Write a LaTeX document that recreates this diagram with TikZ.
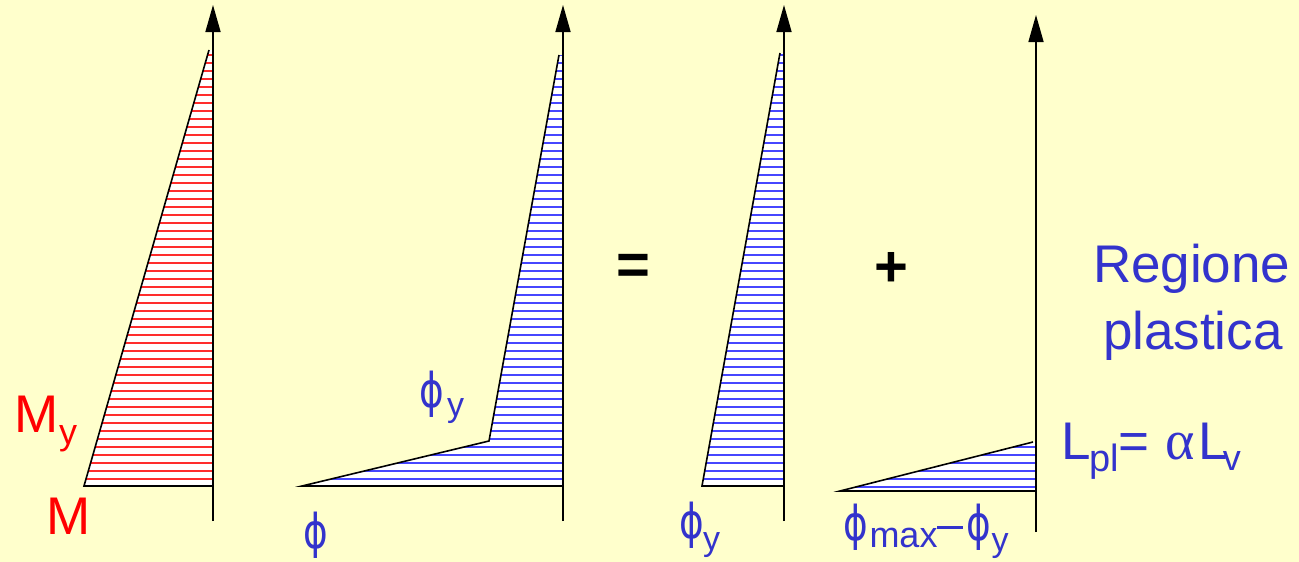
\documentclass[tikz,border=0pt]{standalone}
\usepackage{graphicx}
\usepackage{fontspec}
\setmainfont{Liberation Sans}
\newfontfamily\phifont{DejaVu Sans}
\newfontfamily\alphafont{Liberation Serif}
\usetikzlibrary{arrows.meta}
\definecolor{bg}{RGB}{255,255,204}
\definecolor{txtblue}{RGB}{51,51,204}
\definecolor{hatchred}{RGB}{255,45,45}
\definecolor{hatchblue}{RGB}{70,70,255}
\newcommand\fsz[1]{\fontsize{#1}{#1}\selectfont}
\newcommand\phig{\scalebox{0.78}[1]{ϕ}}
\tikzset{
  axisline/.style={line width=1.6pt, -{Triangle[length=27pt,width=15pt]}},
  outline/.style={line width=1.6pt, line join=miter},
  hatchR/.style={hatchred, line width=2pt},
  hatchB/.style={hatchblue, line width=2pt},
  lbl/.style={inner sep=0pt, outer sep=0pt, anchor=base west},
  redlbl/.style={lbl, text=red},
  bluelbl/.style={lbl, text=txtblue},
  phi/.style={bluelbl, font=\phifont\fsz{48}},
  opsym/.style={inner sep=0pt, outer sep=0pt, anchor=center, font=\bfseries\fsz{58}},
}
\begin{document}
\begin{tikzpicture}[x=1pt,y=-1pt]
\fill[bg] (0,0) rectangle (1299,562);
\useasboundingbox (0,0) rectangle (1299,562);

% ---------- Figure 1 (M) ----------
\coordinate (A1) at (209,50);
\coordinate (B1) at (84,486);
\coordinate (C1) at (213,486);
\coordinate (D1) at (213,50);
\coordinate (S1) at (213,521);
\coordinate (T1) at (213,5);
\fill[white] (A1)--(B1)--(C1)--(D1)--cycle;
\begin{scope}
  \clip (A1)--(B1)--(C1)--(D1)--cycle;
  \foreach \k in {0,...,55} \draw[hatchR] (70,{478.5-8*\k}) -- (230,{478.5-8*\k});
\end{scope}
\draw[outline] (A1)--(B1)--(C1);
\draw[axisline] (S1)--(T1);

% ---------- Figure 2 (phi) ----------
\coordinate (A2) at (559,55);
\coordinate (K2) at (489,441);
\coordinate (B2) at (302,486);
\coordinate (C2) at (563,486);
\coordinate (D2) at (563,55);
\coordinate (S2) at (563,521);
\coordinate (T2) at (563,5);
\fill[white] (A2)--(K2)--(B2)--(C2)--(D2)--cycle;
\begin{scope}
  \clip (A2)--(K2)--(B2)--(C2)--(D2)--cycle;
  \foreach \k in {0,...,55} \draw[hatchB] (290,{478.5-8*\k}) -- (580,{478.5-8*\k});
\end{scope}
\draw[outline] (A2)--(K2)--(B2)--(C2);
\draw[axisline] (S2)--(T2);

% ---------- Figure 3 (phi_y) ----------
\coordinate (A3) at (780,53);
\coordinate (B3) at (702,486);
\coordinate (C3) at (784,486);
\coordinate (D3) at (784,53);
\coordinate (S3) at (784,521);
\coordinate (T3) at (784,5);
\fill[white] (A3)--(B3)--(C3)--(D3)--cycle;
\begin{scope}
  \clip (A3)--(B3)--(C3)--(D3)--cycle;
  \foreach \k in {0,...,55} \draw[hatchB] (690,{478.5-8*\k}) -- (800,{478.5-8*\k});
\end{scope}
\draw[outline] (A3)--(B3)--(C3);
\draw[axisline] (S3)--(T3);

% ---------- Figure 4 (phi_max - phi_y) ----------
\coordinate (A4) at (1033,442);
\coordinate (B4) at (840,491);
\coordinate (C4) at (1036,491);
\coordinate (D4) at (1036,442);
\coordinate (S4) at (1036,532);
\coordinate (T4) at (1036,15);
\fill[white] (A4)--(B4)--(C4)--(D4)--cycle;
\begin{scope}
  \clip (A4)--(B4)--(C4)--(D4)--cycle;
  \foreach \k in {0,...,7} \draw[hatchB] (830,{487-8*\k}) -- (1045,{487-8*\k});
\end{scope}
\draw[outline] (A4)--(B4)--(C4);
\draw[axisline] (S4)--(T4);

% ---------- operators ----------
\node[opsym] (eq) at (633.5,269.5) {=};
\node[opsym] (plus) at (891,269.5) {+};

% ---------- red labels ----------
\node[redlbl, font=\fsz{53}] (My) at (14,432) {M};
\node[redlbl, font=\fsz{36}] (Mysub) at (59,444) {y};
\node[redlbl, font=\fsz{53}] (M) at (46,534) {M};

% ---------- blue labels ----------
\node[phi] (phiy2) at (419.5,407) {\phig};
\node[bluelbl, font=\fsz{34}] (phiy2sub) at (447,416) {y};
\node[phi] (phi2) at (303.5,548) {\phig};

\node[phi] (phiy3) at (679.5,538) {\phig};
\node[bluelbl, font=\fsz{34}] (phiy3sub) at (703,550) {y};

\node[phi] (phimax) at (843.5,540) {\phig};
\node[bluelbl, font=\fsz{36}] (maxsub) at (869.5,547) {max};
\node[bluelbl] (minus) at (937,528.5) {\rule{26pt}{3pt}};
\node[phi] (phiy4) at (966.5,540) {\phig};
\node[bluelbl, font=\fsz{34}] (phiy4sub) at (991.5,551) {y};

\node[bluelbl, font=\fsz{53}] (reg) at (1093,282) {Regione};
\node[bluelbl, font=\fsz{53}] (pla) at (1103,349) {plastica};

\node[bluelbl, font=\fsz{53}] (Lpl) at (1061,459) {L\kern-1pt\raisebox{-12pt}{\fsz{38}pl}};
\node[bluelbl, font=\fsz{53}] (eq2) at (1118.5,459) {=};
\node[bluelbl, font=\alphafont\fsz{56}] (alpha) at (1165,459) {α};
\node[bluelbl, font=\fsz{53}] (Lv) at (1198,459) {L\kern-4.5pt\raisebox{-11pt}{\fsz{36}v}};
\end{tikzpicture}
\end{document}
